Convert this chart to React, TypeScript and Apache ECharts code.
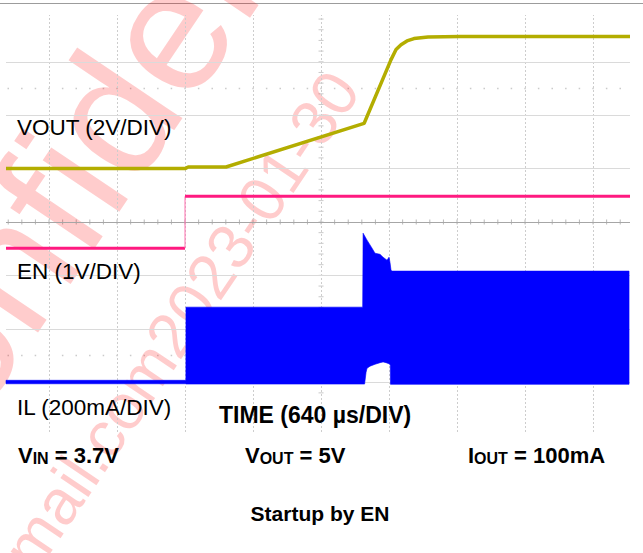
import React, { useEffect, useRef } from "react";
import * as echarts from "echarts";

const FONT = "'Liberation Sans', Arial, Helvetica, sans-serif";

// ---- horizontal (time) scale: 640 µs per division, t = 0 at the EN rising edge ----
const US_PER_DIV = 640;
const MINOR_PER_DIV = 5;
const TIME_MIN = -1685;
const TIME_MAX = 4188;
const gridTimes = [-1280, -640, 0, 640, 1280, 1920, 2560, 3200, 3840];
const centerTime = 1280;

// ---- vertical scale in screen divisions, 0 = centre line ----
const DIV_MIN = -3.933;
const DIV_MAX = 3.876;
const gridDivs = [-3, -2, -1, 1, 2, 3];
const dottedDivs = [2.5, -2.5];

// ---- VOUT, 2 V/DIV, ground marker at +1 div ----
const VOUT_V_PER_DIV = 2;
const VOUT_GROUND_DIV = 1;
const voutTime = [-1685, 0, 30, 386, 1685, 1939, 1986, 2033, 2089, 2155, 2287, 2590, 3400, 4188];
const voutVolts = [0, 0, 0.06, 0.06, 1.69, 4.08, 4.46, 4.64, 4.78, 4.87, 4.93, 4.95, 4.95, 4.95];

// ---- EN, 1 V/DIV ----
const EN_V_PER_DIV = 1;
const EN_GROUND_DIV = -0.49;
const enTime = [-1685, 0, 0, 4188];
const enVolts = [0, 0, 0.97, 0.97];

// ---- IL, 200 mA/DIV, ground at -3 div; switching ripple drawn as its envelope ----
const IL_MA_PER_DIV = 200;
const IL_GROUND_DIV = -3;
const ilUpperTime = [-1685, 8, 9, 1672, 1676, 1713, 1760, 1788, 1835, 1864, 1901, 1920, 1929, 1939, 1948, 4179];
const ilUpperMA = [7, 7, 281, 281, 558, 532, 502, 483, 479, 468, 457, 468, 449, 419, 416, 416];
const ilLowerTime = [-1685, 8, 9, 1690, 1704, 1713, 1741, 1788, 1835, 1864, 1892, 1920, 1932, 1934, 4179];
const ilLowerMA = [-6, -6, -7, -7, 37, 52, 60, 67, 73, 76, 73, 69, 64, -8, -8];

const YELLOW = "#b3ad00";
const PINK = "#ff1a80";
const BLUE = "#0000ff";

function buildOption() {
  const voutData = voutTime.map((t, i) => [t, VOUT_GROUND_DIV + voutVolts[i] / VOUT_V_PER_DIV]);
  const enPts = enTime.map((t, i) => [t, EN_GROUND_DIV + enVolts[i] / EN_V_PER_DIV]);
  const ilTop = ilUpperTime.map((t, i) => [t, IL_GROUND_DIV + ilUpperMA[i] / IL_MA_PER_DIV]);
  const ilBottom = ilLowerTime.map((t, i) => [t, IL_GROUND_DIV + ilLowerMA[i] / IL_MA_PER_DIV]);
  const ilOutline = [...ilTop, ...ilBottom.slice().reverse()];

  const minorUs = US_PER_DIV / MINOR_PER_DIV;
  const xTicks: number[][] = [];
  for (let t = Math.ceil(TIME_MIN / minorUs) * minorUs; t <= TIME_MAX; t += minorUs) xTicks.push([t, 0]);
  const yTicks: number[][] = [];
  for (let k = Math.ceil(DIV_MIN * MINOR_PER_DIV); k <= Math.floor(DIV_MAX * MINOR_PER_DIV); k++)
    yTicks.push([centerTime, k / MINOR_PER_DIV]);
  const dots: number[][] = [];
  dottedDivs.forEach((d) => xTicks.forEach((p) => dots.push([p[0], d])));

  const markData: any[] = [
    ...gridTimes.map((t) => ({ xAxis: t, lineStyle: { color: "#cdcdcd", width: 1, type: [2, 2] } })),
    ...gridDivs.map((d) => ({ yAxis: d, lineStyle: { color: "#dadada", width: 1, type: "solid" } })),
    { yAxis: 0, lineStyle: { color: "#a6a6a6", width: 1, type: "solid" } },
  ];

  const wm = "rgba(255,0,0,0.2)";
  const ang = (56 * Math.PI) / 180;

  const labelStyle = (text: string) => ({
    text,
    fontSize: 22.5,
    fontFamily: FONT,
    fill: "#000",
    align: "left",
    verticalAlign: "middle",
  });
  const rich = {
    b: { fontSize: 22, fontWeight: "bold", fontFamily: FONT, fill: "#000", verticalAlign: "bottom" },
    s: { fontSize: 16, fontWeight: "bold", fontFamily: FONT, fill: "#000", verticalAlign: "bottom" },
  };

  return {
    animation: false,
    backgroundColor: "#ffffff",
    grid: { left: 6, right: 13, top: 15, bottom: 121, containLabel: false },
    xAxis: { type: "value", min: TIME_MIN, max: TIME_MAX, show: false },
    yAxis: { type: "value", min: DIV_MIN, max: DIV_MAX, show: false },
    series: [
      {
        type: "line",
        z: 1,
        silent: true,
        symbol: "none",
        data: [[TIME_MIN, DIV_MIN]],
        lineStyle: { opacity: 0 },
        markLine: { silent: true, symbol: ["none", "none"], label: { show: false }, animation: false, data: markData },
      },
      { type: "scatter", z: 1, silent: true, symbol: "rect", symbolSize: [1, 5], itemStyle: { color: "#a6a6a6" }, data: xTicks },
      { type: "scatter", z: 1, silent: true, symbol: "rect", symbolSize: [5, 1], itemStyle: { color: "#bdbdbd" }, data: yTicks },
      { type: "scatter", z: 1, silent: true, symbol: "rect", symbolSize: [1.5, 1.5], itemStyle: { color: "#bdbdbd" }, data: dots },
      {
        type: "custom",
        z: 5,
        silent: true,
        data: [[0, 0]],
        renderItem: (_p: any, api: any) => ({
          type: "polygon",
          shape: { points: ilOutline.map((p) => api.coord(p)) },
          style: { fill: BLUE, stroke: BLUE, lineWidth: 0.6 },
        }),
      },
      { type: "line", z: 6, silent: true, symbol: "none", data: [enPts[0], enPts[1]], lineStyle: { color: PINK, width: 3 } },
      { type: "line", z: 6, silent: true, symbol: "none", data: [enPts[1], enPts[2]], lineStyle: { color: "#ff6fae", width: 1 } },
      { type: "line", z: 6, silent: true, symbol: "none", data: [enPts[2], enPts[3]], lineStyle: { color: PINK, width: 3 } },
      { type: "line", z: 6, silent: true, symbol: "none", data: voutData, lineStyle: { color: YELLOW, width: 3.5 } },
    ],
    graphic: [
      { type: "line", z: 2, silent: true, shape: { x1: 0, y1: 3.5, x2: 643, y2: 3.5 }, style: { stroke: "#9c9c9c", lineWidth: 1.2 } },
      { type: "rect", z: 2, silent: true, shape: { x: 0, y: 108, width: 228, height: 39 }, style: { fill: "#fff" } },
      { type: "rect", z: 2, silent: true, shape: { x: 0, y: 250, width: 228, height: 37 }, style: { fill: "#fff" } },
      { type: "rect", z: 2, silent: true, shape: { x: 0, y: 387, width: 228, height: 38 }, style: { fill: "#fff" } },
      { type: "rect", z: 2, silent: true, shape: { x: 214, y: 396, width: 202, height: 40 }, style: { fill: "#fff" } },
      {
        type: "text", z: 3, silent: true, x: -144, y: 494, rotation: ang,
        style: { text: "Confidential", fontSize: 175, fontFamily: FONT, fill: wm, align: "left", verticalAlign: "middle" },
      },
      {
        type: "text", z: 3, silent: true, x: 18, y: 562, rotation: ang,
        style: { text: "mail.com2023-01-30", fontSize: 64, fontFamily: FONT, fill: wm, align: "left", verticalAlign: "middle" },
      },
      { type: "text", z: 10, silent: true, x: 17, y: 127.2, style: labelStyle("VOUT (2V/DIV)") },
      { type: "text", z: 10, silent: true, x: 17, y: 271.5, style: labelStyle("EN (1V/DIV)") },
      { type: "text", z: 10, silent: true, x: 17, y: 407, style: labelStyle("IL (200mA/DIV)") },
      {
        type: "text", z: 10, silent: true, x: 219, y: 414.5,
        style: { text: "TIME (640 µs/DIV)", fontSize: 23, fontWeight: "bold", fontFamily: FONT, fill: "#000", align: "left", verticalAlign: "middle" },
      },
      { type: "text", z: 10, silent: true, x: 18, y: 455, style: { text: "{b|V}{s|IN}{b| = 3.7V}", rich, align: "left", verticalAlign: "middle" } },
      { type: "text", z: 10, silent: true, x: 245, y: 455, style: { text: "{b|V}{s|OUT}{b| = 5V}", rich, align: "left", verticalAlign: "middle" } },
      { type: "text", z: 10, silent: true, x: 468, y: 455, style: { text: "{b|I}{s|OUT}{b| = 100mA}", rich, align: "left", verticalAlign: "middle" } },
      {
        type: "text", z: 10, silent: true, x: 320, y: 513,
        style: { text: "Startup by EN", fontSize: 21, fontWeight: "bold", fontFamily: FONT, fill: "#000", align: "center", verticalAlign: "middle" },
      },
    ],
  };
}

export default function App() {
  const ref = useRef<HTMLDivElement>(null);
  useEffect(() => {
    if (!ref.current) return;
    const chart = echarts.init(ref.current, null, { renderer: "svg" });
    chart.setOption(buildOption() as any);
    return () => chart.dispose();
  }, []);
  return (
    <div
      ref={ref}
      style={{ position: "absolute", left: 0, top: 0, width: 643, height: 553, background: "#fff" }}
    />
  );
}
